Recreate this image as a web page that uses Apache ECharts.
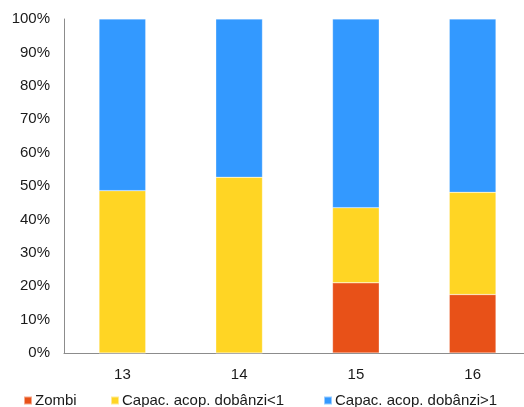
<!DOCTYPE html>
<html>
<head>
<meta charset="utf-8">
<script src="https://cdn.jsdelivr.net/npm/echarts@6/dist/echarts.min.js"></script>
<style>
  html, body { margin: 0; padding: 0; background: #fff; overflow: hidden; }
  #chart { width: 540px; height: 407px; }
</style>
</head>
<body>
<div id="chart"></div>
<script>
// Categories and shares (percent of total) for each group
const categories = ['13', '14', '15', '16'];
const zombi = [0, 0, 21.0, 17.5];
const acopSub1 = [48.6, 52.6, 22.5, 30.6];
const acopPeste1 = [51.4, 47.4, 56.5, 51.9];
const yTicks = [0, 10, 20, 30, 40, 50, 60, 70, 80, 90, 100];

const seriesNames = ['Zombi', 'Capac. acop. dobânzi<1', 'Capac. acop. dobânzi>1'];
const colors = ['#E85118', '#FFD524', '#3399FF'];
const font = 'Liberation Sans, Arial, sans-serif';

const chart = echarts.init(document.getElementById('chart'), null, { renderer: 'canvas' });

// One legend per entry so each sits at its own horizontal slot
const legendLefts = [18, 105, 318];
const legends = seriesNames.map((name, i) => ({
  data: [name],
  left: legendLefts[i],
  top: 388,
  icon: 'rect',
  itemWidth: 8,
  itemHeight: 8,
  itemGap: 0,
  textStyle: { fontFamily: font, fontSize: 15, color: '#1a1a1a', padding: [0, 0, 0, -2] },
  selectedMode: false
}));

const values = [zombi, acopSub1, acopPeste1];

chart.setOption({
  animation: false,
  color: colors,
  legend: legends,
  grid: { left: 64, top: 19, width: 467, height: 334, containLabel: false },
  xAxis: {
    type: 'category',
    data: categories,
    axisLine: { lineStyle: { color: '#8c8c8c', width: 1 } },
    axisTick: { show: false },
    axisLabel: { fontFamily: font, fontSize: 15, color: '#1a1a1a', margin: 14 }
  },
  yAxis: {
    type: 'value',
    min: yTicks[0],
    max: yTicks[yTicks.length - 1],
    interval: 10,
    axisLine: { show: true, lineStyle: { color: '#8c8c8c', width: 1 } },
    axisTick: { show: false },
    splitLine: { show: false },
    axisLabel: { fontFamily: font, fontSize: 15, color: '#1a1a1a', margin: 14, formatter: '{value}%' }
  },
  series: seriesNames.map((name, i) => ({
    name: name,
    type: 'bar',
    stack: 'total',
    barWidth: '40%',
    data: values[i],
    itemStyle: { color: colors[i], borderColor: 'rgba(255,255,255,0.5)', borderWidth: 0.5 }
  }))
});
</script>
</body>
</html>
